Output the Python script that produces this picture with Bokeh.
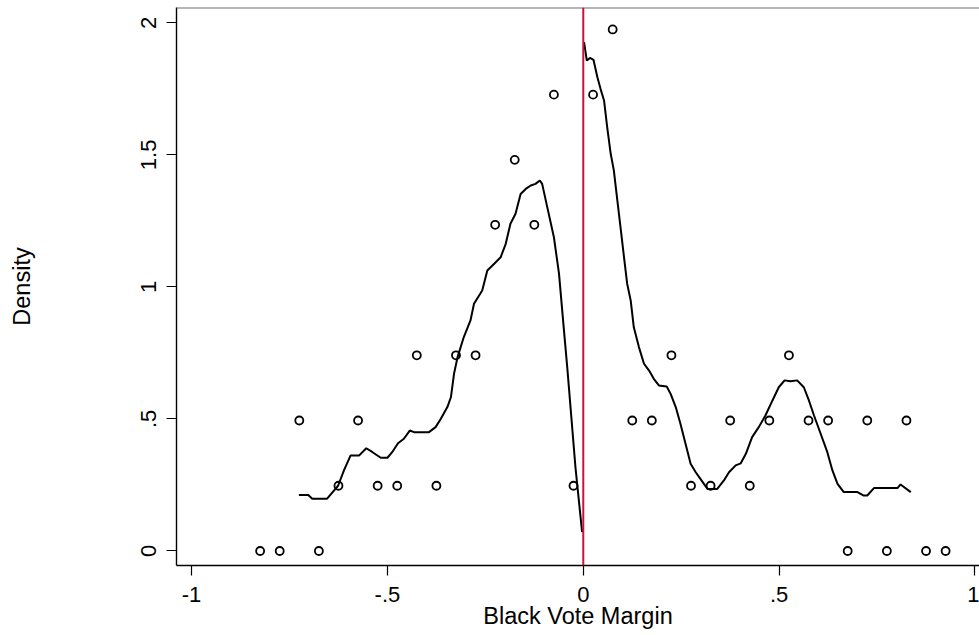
from bokeh.plotting import figure
from bokeh.models import FixedTicker, Span, Range1d
from bokeh.embed import file_html
from bokeh.resources import INLINE

# Histogram bin midpoints and densities
bin_x = [-0.825, -0.775, -0.725, -0.675, -0.625, -0.575, -0.525, -0.475, -0.425,
         -0.375, -0.325, -0.275, -0.225, -0.175, -0.125, -0.075, -0.025,
         0.025, 0.075, 0.125, 0.175, 0.225, 0.275, 0.325, 0.375, 0.425,
         0.475, 0.525, 0.575, 0.625, 0.675, 0.725, 0.775, 0.825, 0.875, 0.925]
bin_density = [0.0, 0.0, 0.494, 0.0, 0.247, 0.494, 0.247, 0.247, 0.741,
               0.247, 0.741, 0.741, 1.235, 1.481, 1.235, 1.728, 0.247,
               1.728, 1.975, 0.494, 0.494, 0.741, 0.247, 0.247, 0.494, 0.247,
               0.494, 0.741, 0.494, 0.494, 0.0, 0.494, 0.0, 0.494, 0.0, 0.0]

# Left-of-cutoff density estimate
left_x = [-0.726, -0.702, -0.692, -0.654, -0.626, -0.611, -0.594, -0.572, -0.554,
          -0.538, -0.517, -0.500, -0.488, -0.473, -0.458, -0.443, -0.432, -0.394,
          -0.377, -0.364, -0.347, -0.338, -0.330, -0.321, -0.305, -0.288, -0.279,
          -0.258, -0.245, -0.228, -0.211, -0.198, -0.186, -0.173, -0.160, -0.147,
          -0.134, -0.122, -0.111, -0.105, -0.092, -0.075, -0.062, -0.050, -0.041,
          -0.020, -0.003]
left_y = [0.212, 0.212, 0.198, 0.198, 0.247, 0.305, 0.362, 0.362, 0.389,
          0.374, 0.353, 0.353, 0.374, 0.408, 0.425, 0.456, 0.450, 0.450,
          0.469, 0.500, 0.545, 0.582, 0.671, 0.734, 0.810, 0.873, 0.936,
          0.986, 1.062, 1.087, 1.112, 1.163, 1.239, 1.277, 1.352, 1.371,
          1.384, 1.390, 1.403, 1.390, 1.302, 1.188, 1.050, 0.847, 0.696,
          0.317, 0.071]

# Right-of-cutoff density estimate
right_x = [0.002, 0.009, 0.017, 0.026, 0.036, 0.044, 0.053, 0.061, 0.070, 0.078,
           0.087, 0.095, 0.104, 0.112, 0.121, 0.129, 0.142, 0.155, 0.168, 0.180,
           0.193, 0.213, 0.223, 0.236, 0.248, 0.261, 0.274, 0.287, 0.299, 0.317,
           0.342, 0.359, 0.372, 0.389, 0.402, 0.415, 0.431, 0.448, 0.465, 0.483,
           0.499, 0.514, 0.529, 0.546, 0.563, 0.576, 0.589, 0.606, 0.623, 0.636,
           0.649, 0.665, 0.700, 0.716, 0.725, 0.742, 0.802, 0.810, 0.836]
right_y = [1.927, 1.857, 1.867, 1.860, 1.794, 1.750, 1.706, 1.605, 1.504, 1.441,
           1.327, 1.226, 1.112, 1.012, 0.949, 0.847, 0.772, 0.709, 0.683, 0.652,
           0.627, 0.623, 0.595, 0.545, 0.482, 0.406, 0.330, 0.298, 0.273, 0.235,
           0.235, 0.267, 0.298, 0.324, 0.332, 0.368, 0.431, 0.469, 0.513, 0.570,
           0.620, 0.646, 0.643, 0.646, 0.620, 0.570, 0.513, 0.444, 0.374, 0.305,
           0.254, 0.223, 0.223, 0.210, 0.210, 0.238, 0.238, 0.252, 0.223]

x_ticks = [-1, -0.5, 0, 0.5, 1]
x_tick_labels = ["-1", "-.5", "0", ".5", "1"]
y_ticks = [0, 0.5, 1, 1.5, 2]
y_tick_labels = ["0", ".5", "1", "1.5", "2"]
cutoff = 0.0

FONT = "Liberation Sans"
Y0, Y1 = -0.055, 2.058

p = figure(width=979, height=635, output_backend="svg", toolbar_location=None,
           x_range=Range1d(-1.0385, 1.0115), y_range=Range1d(Y0, Y1),
           min_border_left=176, min_border_right=0, min_border_top=7,
           min_border_bottom=70)
p.outline_line_color = None
p.grid.grid_line_color = None
p.background_fill_color = "white"
p.border_fill_color = "white"

for ax in (p.xaxis[0], p.yaxis[0]):
    ax.axis_line_color = "black"
    ax.axis_line_width = 1.4
    ax.major_tick_line_color = "black"
    ax.major_tick_line_width = 1.2
    ax.major_tick_out = 10
    ax.major_tick_in = 0
    ax.minor_tick_line_color = None
    ax.major_label_text_font = FONT
    ax.major_label_text_font_size = "22px"
    ax.major_label_text_color = "black"
    ax.axis_label_text_font = FONT
    ax.axis_label_text_font_size = "23.5px"
    ax.axis_label_text_font_style = "normal"
    ax.axis_label_text_color = "black"

p.xaxis.ticker = FixedTicker(ticks=x_ticks)
p.xaxis.major_label_overrides = dict(zip(x_ticks, x_tick_labels))
p.xaxis.major_label_standoff = 11
p.xaxis.axis_label = "Black Vote Margin"
p.xaxis.axis_label_standoff = -2

p.yaxis.ticker = FixedTicker(ticks=y_ticks)
p.yaxis.major_label_orientation = "vertical"
p.yaxis.major_label_overrides = dict(zip(y_ticks, y_tick_labels))
p.yaxis.major_label_standoff = 10
p.yaxis.axis_label = "Density"
p.yaxis.axis_label_standoff = 104

# top outline of plot region
p.add_layout(Span(location=Y1, dimension="width", line_color="#6e6e6e", line_width=2))

p.line(left_x, left_y, line_color="black", line_width=2)
p.line(right_x, right_y, line_color="black", line_width=2)
p.scatter(bin_x, bin_density, marker="circle", size=8, fill_color=None,
          line_color="black", line_width=1.8)
p.add_layout(Span(location=cutoff, dimension="height", line_color="#C8143C", line_width=2))

open("out.html", "w").write(file_html(p, INLINE))
